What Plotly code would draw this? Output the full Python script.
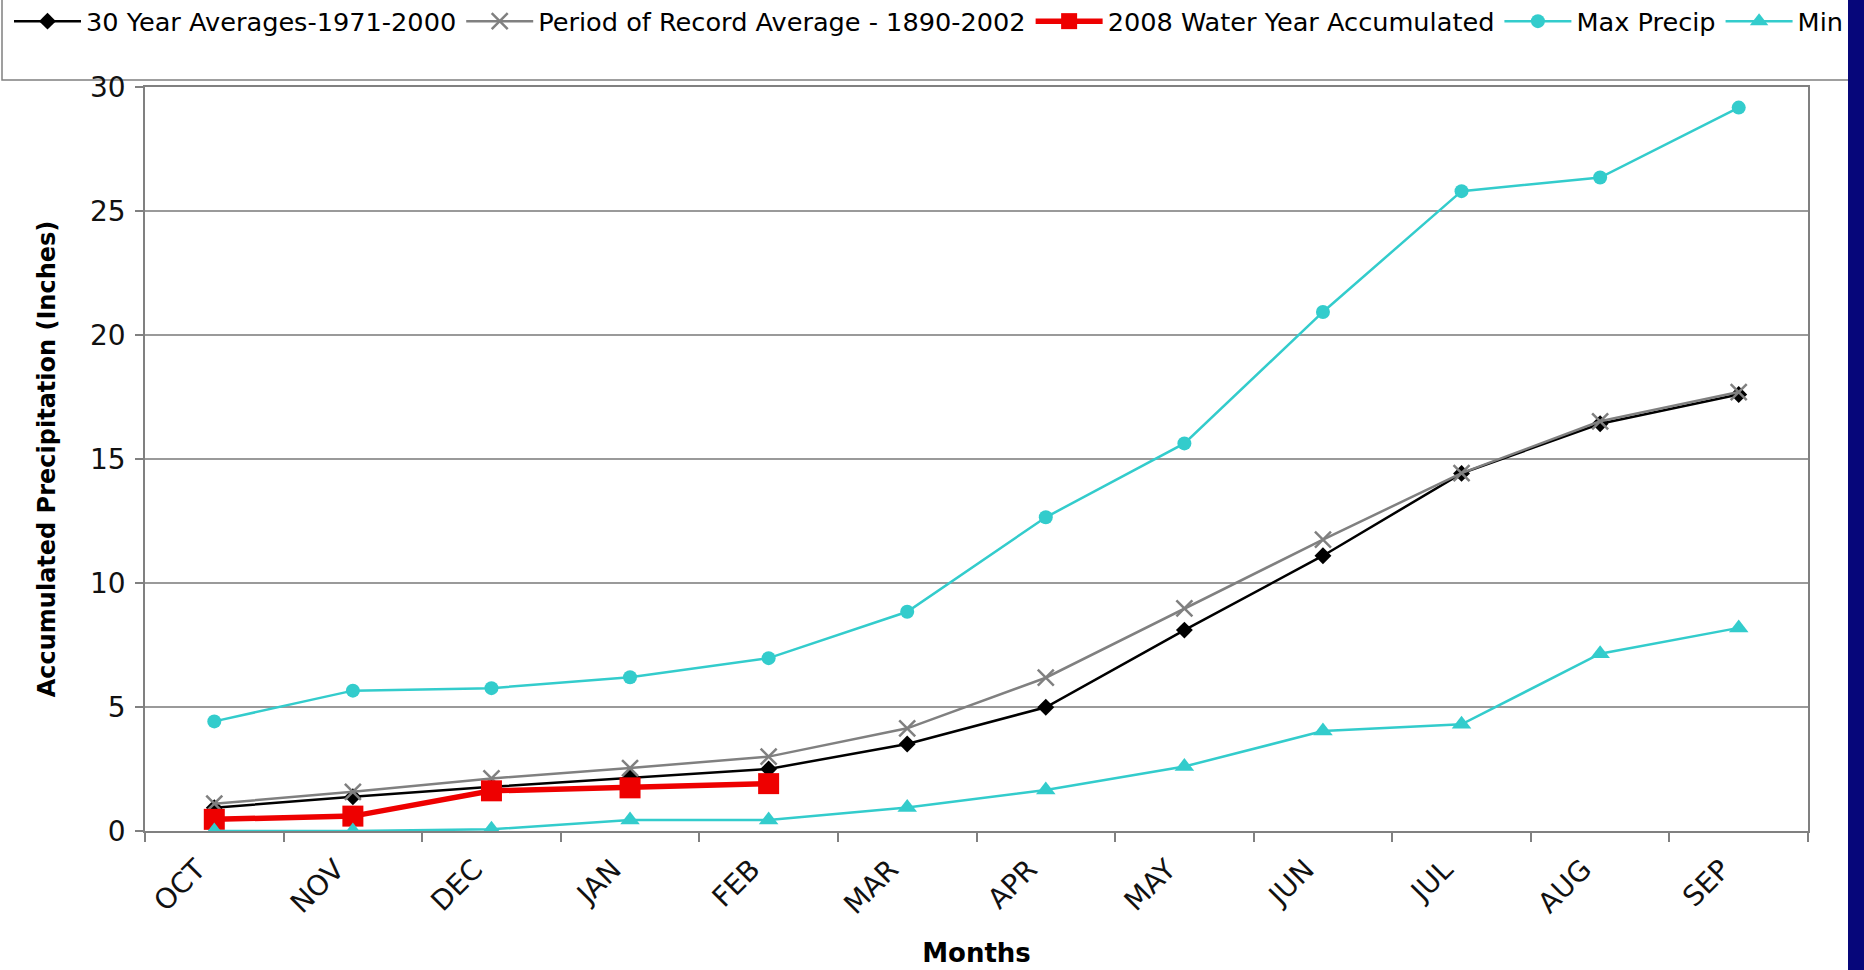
import plotly.graph_objects as go

months = ["OCT", "NOV", "DEC", "JAN", "FEB", "MAR", "APR", "MAY", "JUN", "JUL", "AUG", "SEP"]
avg_30yr = [0.94, 1.38, 1.78, 2.14, 2.50, 3.51, 4.99, 8.10, 11.10, 14.42, 16.42, 17.60]
period_avg = [1.10, 1.58, 2.12, 2.54, 3.00, 4.14, 6.18, 8.98, 11.75, 14.43, 16.52, 17.70]
wy2008_months = ["OCT", "NOV", "DEC", "JAN", "FEB"]
wy2008 = [0.47, 0.60, 1.62, 1.74, 1.91]
max_precip = [4.42, 5.66, 5.76, 6.20, 6.97, 8.84, 12.65, 15.63, 20.93, 25.80, 26.35, 29.17]
min_precip = [0.00, 0.00, 0.07, 0.44, 0.44, 0.95, 1.65, 2.60, 4.03, 4.30, 7.15, 8.19]
y_ticks = [0, 5, 10, 15, 20, 25, 30]

W, H = 1864, 970
L, T, B = 145, 87, 139
PLOT_RIGHT = 1808          # right edge of the plotting area (px)
pw, ph = W - L, H - T - B  # paper area (right margin 0, x domain shortened instead)

def px(x):
    return (x - L) / pw

def py(y):
    return (H - B - y) / ph

teal = "#33CCCC"
font = "DejaVu Sans, Liberation Sans, Arial, sans-serif"

fig = go.Figure()
fig.add_trace(go.Scatter(x=months, y=avg_30yr, name="30 Year Averages-1971-2000", mode="lines+markers",
                         line=dict(color="black", width=2.5),
                         marker=dict(symbol="diamond", size=13, color="black")))
fig.add_trace(go.Scatter(x=months, y=period_avg, name="Period of Record Average - 1890-2002", mode="lines+markers",
                         line=dict(color="#808080", width=2.5),
                         marker=dict(symbol="x-thin-open", size=16, line=dict(color="#808080", width=2.5))))
fig.add_trace(go.Scatter(x=wy2008_months, y=wy2008, name="2008 Water Year Accumulated", mode="lines+markers",
                         line=dict(color="#EE0000", width=5.5),
                         marker=dict(symbol="square", size=21, color="#EE0000")))
fig.add_trace(go.Scatter(x=months, y=max_precip, name="Max Precip", mode="lines+markers",
                         line=dict(color=teal, width=2.5),
                         marker=dict(symbol="circle", size=14, color=teal)))
fig.add_trace(go.Scatter(x=months, y=min_precip, name="Min", mode="lines+markers",
                         line=dict(color=teal, width=2.5),
                         marker=dict(symbol="triangle-up", size=17, color=teal)))

shapes = [
    # legend frame
    dict(type="rect", xref="paper", yref="paper", x0=px(2), x1=px(1852), y0=py(80), y1=py(-5),
         line=dict(color="#808080", width=1.5), fillcolor="rgba(0,0,0,0)", layer="below"),
    # dark blue slide edge
    dict(type="rect", xref="paper", yref="paper", x0=px(1848), x1=px(1870), y0=py(975), y1=py(-5),
         line=dict(width=0), fillcolor="#06067a", layer="above"),
]

fig.update_layout(
    width=W, height=H,
    margin=dict(l=L, r=0, t=T, b=B, autoexpand=False),
    paper_bgcolor="white", plot_bgcolor="white",
    font=dict(family=font, size=25, color="black"),
    showlegend=True,
    legend=dict(orientation="h", x=px(9), y=py(-2), xanchor="left", yanchor="top",
                font=dict(family=font, size=25.6, color="black"),
                bgcolor="rgba(0,0,0,0)", borderwidth=0, itemwidth=67,
                traceorder="normal"),
    shapes=shapes,
    xaxis=dict(type="category", categoryorder="array", categoryarray=months, range=[-0.5, 11.5],
               domain=[0, px(PLOT_RIGHT)],
               tickson="boundaries", ticks="outside", ticklen=9, tickcolor="#808080", tickwidth=1.5,
               tickangle=-45, tickfont=dict(family=font, size=28, color="#111"),
               ticklabelstandoff=9, ticklabelshift=-17,
               showline=True, linecolor="#808080", linewidth=1.5, mirror=True,
               showgrid=False, automargin=False,
               title=dict(text="<b>Months</b>", font=dict(family=font, size=26, color="black"), standoff=24)),
    yaxis=dict(range=[0, 30], tickvals=y_ticks, ticks="outside", ticklen=8, tickcolor="#808080", tickwidth=1.5,
               tickfont=dict(family=font, size=28, color="#111"), ticklabelstandoff=4,
               showline=True, linecolor="#808080", linewidth=1.5, mirror=True,
               showgrid=True, gridcolor="#9a9a9a", gridwidth=1.5, zeroline=False, automargin=False,
               title=dict(text="<b>Accumulated Precipitation (Inches)</b>",
                          font=dict(family=font, size=24, color="black"), standoff=28)),
)

fig.write_html("out.html", config={"displayModeBar": False},
               post_script="document.body.style.margin='0';document.body.style.overflow='hidden';")
